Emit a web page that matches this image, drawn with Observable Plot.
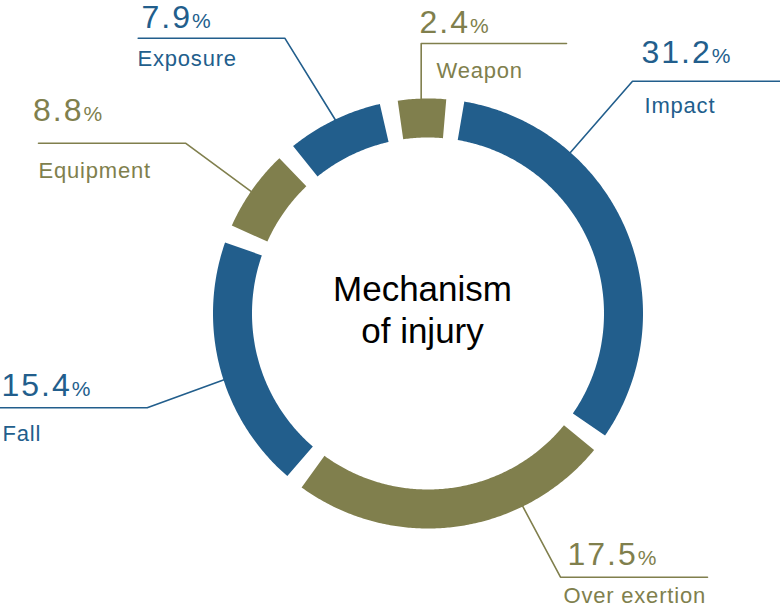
<!DOCTYPE html>
<html>
<head>
<meta charset="utf-8">
<script src="https://cdn.jsdelivr.net/npm/d3@7"></script>
<script src="https://cdn.jsdelivr.net/npm/@observablehq/plot@0.6"></script>
<style>
  html, body { margin: 0; padding: 0; background: #fff; }
  #chart { width: 780px; height: 606px; }
</style>
</head>
<body>
<div id="chart"></div>
<script>
// ---- data ----
const categories = ["Impact", "Over exertion", "Fall", "Equipment", "Exposure", "Weapon"];
const percents   = [31.2, 17.5, 15.4, 8.8, 7.9, 2.4];
// share of the ring each arc occupies, as drawn in the picture (% of the full circle)
const ringShare  = [33.25, 25.4, 20.35, 7.5, 8.55, 4.95];
const groups     = ["blue", "olive", "blue", "olive", "blue", "olive"];
const centerTitle = ["Mechanism", "of injury"];

// ---- styles / layout ----
const palette = {blue: "#225e8c", olive: "#807f4d"};
const W = 780, H = 606;
const cx = 428, cy = 313.5, rOuter = 215, rInner = 176;
const startAngle = 7.3, gapAngle = 4.85;
const leaderLayout = [
  {angle: 41.3,   corner: [632, 80.7],  endX: 780},
  {angle: 153.9,  corner: [560, 576.7], endX: 707},
  {angle: -107.8, corner: [146.7, 407.3], endX: 0},
  {angle: -55.4,  corner: [185, 142.7], endX: 38},
  {angle: -25.6,  corner: [284.3, 37.7], endX: 137.7},
  {angle: -1.96,  corner: [420.7, 43],  endX: 566}
];
const valuePos = [[641, 62], [567, 564], [1, 395], [32.5, 120], [141, 27], [419, 32]];
const labelPos = [[644, 112], [563, 602], [2, 440], [38, 177], [137, 65], [436, 77]];

// ---- geometry ----
const rad = a => a * Math.PI / 180;
const pt = (a, r) => [cx + r * Math.sin(rad(a)), cy - r * Math.cos(rad(a))];

const bands = [];
let acc = startAngle;
categories.forEach((name, i) => {
  const span = ringShare[i] / 100 * 360;
  const a0 = acc + gapAngle / 2, a1 = acc + span - gapAngle / 2;
  const n = Math.max(4, Math.ceil((a1 - a0) / 0.5));
  for (let k = 0; k <= n; k++) {
    const a = a0 + (a1 - a0) * k / n;
    const [ox, oy] = pt(a, rOuter);
    const [ix, iy] = pt(a, rInner);
    bands.push({name, ox, oy, ix, iy, color: palette[groups[i]]});
  }
  acc += span;
});

const leaders = [];
categories.forEach((name, i) => {
  const L = leaderLayout[i];
  const color = palette[groups[i]];
  const [sx, sy] = pt(L.angle, rOuter - 1);
  leaders.push({name, x: sx, y: sy, color});
  leaders.push({name, x: L.corner[0], y: L.corner[1], color});
  leaders.push({name, x: L.endX, y: L.corner[1], color});
});

const values = categories.map((name, i) => ({
  name, text: percents[i].toFixed(1), x: valuePos[i][0], y: valuePos[i][1], color: palette[groups[i]]
}));
const labels = categories.map((name, i) => ({
  name, x: labelPos[i][0], y: labelPos[i][1], color: palette[groups[i]]
}));
const titleLines = centerTitle.map((t, i) => ({t, x: 422, y: 300 + i * 42}));

const font = "'Liberation Sans', Arial, Helvetica, sans-serif";

const chart = Plot.plot({
  width: W, height: H,
  margin: 0,
  x: {domain: [0, W], range: [0, W], axis: null},
  y: {domain: [0, H], range: [0, H], axis: null},
  style: {fontFamily: font, background: "#fff"},
  marks: [
    Plot.area(bands, {x1: "ox", y1: "oy", x2: "ix", y2: "iy", z: "name", fill: "color", curve: "linear"}),
    Plot.line(leaders, {x: "x", y: "y", z: "name", stroke: "color", strokeWidth: 1.6, curve: "linear"}),
    Plot.text(values, {x: "x", y: "y", text: "text", fill: "color", fontSize: 32, textAnchor: "start",
      lineAnchor: "bottom", fontFamily: font, className: "val"}),
    Plot.text(labels, {x: "x", y: "y", text: "name", fill: "color", fontSize: 22, textAnchor: "start",
      lineAnchor: "bottom", fontFamily: font, className: "lab"}),
    Plot.text(titleLines, {x: "x", y: "y", text: "t", fill: "#000", fontSize: 35, textAnchor: "middle",
      lineAnchor: "bottom", fontFamily: font})
  ]
});

const svg = d3.select(chart);
svg.selectAll("g.val text").attr("letter-spacing", 2)
  .append("tspan").attr("font-size", 21).attr("letter-spacing", 0).text("%");
svg.selectAll("g.lab text").attr("letter-spacing", 0.8);
document.getElementById("chart").appendChild(chart);
</script>
</body>
</html>
